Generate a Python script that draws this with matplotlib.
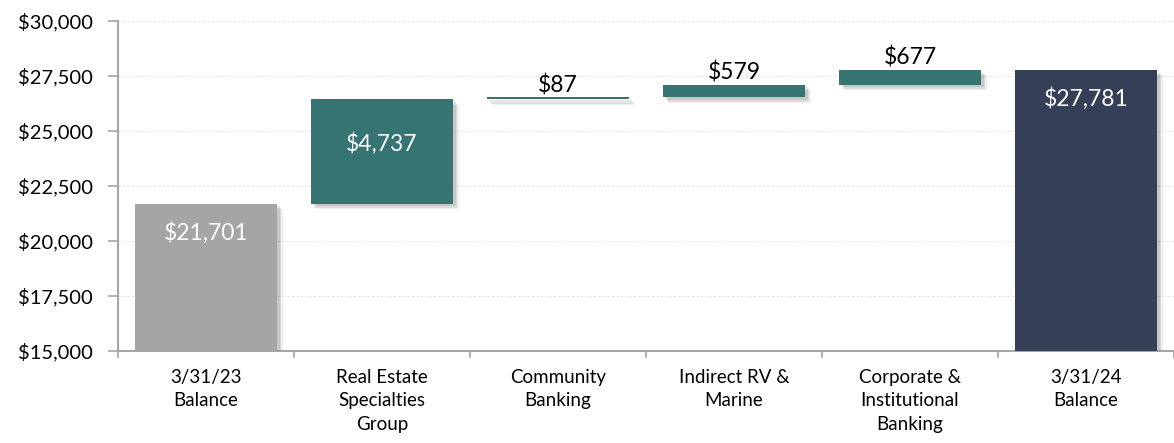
import matplotlib.pyplot as plt
import matplotlib.patheffects as pe
from matplotlib.ticker import FuncFormatter, FixedLocator

plt.rcParams['font.family'] = ['Lato', 'DejaVu Sans']

categories = ['3/31/23\nBalance', 'Real Estate\nSpecialties\nGroup', 'Community\nBanking',
              'Indirect RV &\nMarine', 'Corporate &\nInstitutional\nBanking', '3/31/24\nBalance']
start_balance = 21701
changes = [4737, 87, 579, 677]
end_balance = 27781
colors = ['#A5A5A5', '#357470', '#357470', '#357470', '#357470', '#353F58']

# waterfall bottoms / heights
heights = [start_balance] + changes + [end_balance]
bottoms = [0]
run = start_balance
for c in changes:
    bottoms.append(run)
    run += c
bottoms.append(0)

fig = plt.figure(figsize=(11.74, 4.43), dpi=100)
ax = fig.add_axes([118 / 1174, 1 - 351 / 443, 1 - 118 / 1174, 330 / 443])

x = list(range(len(categories)))
# soft drop shadow
shadow = [pe.SimplePatchShadow(offset=(4, -4), shadow_rgbFace='#7F7F7F', alpha=0.12),
          pe.SimplePatchShadow(offset=(3, -3), shadow_rgbFace='#7F7F7F', alpha=0.18),
          pe.SimplePatchShadow(offset=(2, -2), shadow_rgbFace='#7F7F7F', alpha=0.2),
          pe.Normal()]
bars = ax.bar(x, heights, bottom=bottoms, width=0.81, color=colors, zorder=3)
for b in bars:
    b.set_path_effects(shadow)

for i, (h, btm) in enumerate(zip(heights, bottoms)):
    top = btm + h
    label = '${:,.0f}'.format(h)
    if h > 2000:
        off = -44 if i not in (0, len(heights) - 1) else -29
        ax.annotate(label, (i, top), xytext=(0, off), textcoords='offset pixels',
                    ha='center', va='center', color='white', fontsize=16.5, zorder=5)
    else:
        ax.annotate(label, (i, top), xytext=(0, 1), textcoords='offset points',
                    ha='center', va='bottom', color='black', fontsize=16.5, zorder=5)

ax.set_ylim(15000, 30000)
ax.set_xlim(-0.5, len(categories) - 0.5)
ax.set_yticks(range(15000, 30001, 2500))
ax.yaxis.set_major_formatter(FuncFormatter(lambda v, p: '${:,.0f}'.format(v)))
ax.set_xticks(x)
ax.set_xticklabels(categories, fontsize=13.5, linespacing=1.45, va='top')
ax.xaxis.set_minor_locator(FixedLocator([i - 0.5 for i in range(len(categories) + 1)]))
ax.tick_params(axis='x', which='major', length=0, pad=13)
ax.tick_params(axis='x', which='minor', length=5, color='#A6A6A6', width=1.2)
ax.tick_params(axis='y', length=7, color='#A6A6A6', width=1.2, labelsize=14.5, pad=11)

ax.grid(axis='y', color='#E3E3E3', linestyle=(0, (2, 2)), linewidth=0.8, zorder=0)
ax.set_axisbelow(True)
for s in ['top', 'right']:
    ax.spines[s].set_visible(False)
for s in ['left', 'bottom']:
    ax.spines[s].set_color('#A6A6A6')
    ax.spines[s].set_linewidth(1.5)

fig.savefig('out.png', dpi=100)
